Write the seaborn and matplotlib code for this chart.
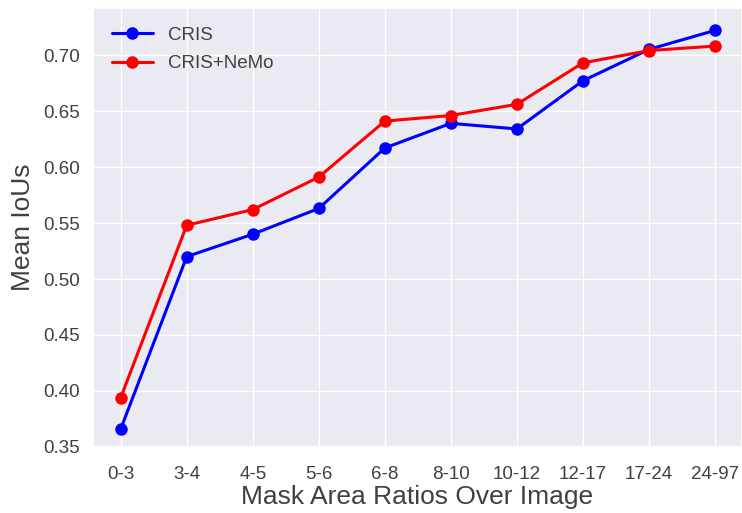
import matplotlib
matplotlib.use("Agg")
import matplotlib.pyplot as plt
import seaborn as sns

# Mask-area buckets (percent of image) and mean IoU per bucket
ratio_bins = ["0-3", "3-4", "4-5", "5-6", "6-8", "8-10", "10-12", "12-17", "17-24", "24-97"]
cris_miou = [0.366, 0.520, 0.540, 0.563, 0.617, 0.639, 0.634, 0.677, 0.705, 0.722]
cris_nemo_miou = [0.394, 0.548, 0.562, 0.591, 0.641, 0.646, 0.656, 0.693, 0.704, 0.708]

sns.set_theme(style="darkgrid")
plt.rcParams["font.family"] = ["Liberation Sans", "DejaVu Sans"]

fig = plt.figure(figsize=(7.42, 5.13), dpi=100)
ax = fig.add_axes([0.1253, 0.1287, 0.8747, 0.8557])

line_kw = dict(marker="o", markersize=9, linewidth=2.2, markeredgewidth=0)
sns.lineplot(x=ratio_bins, y=cris_miou, color="blue", label="CRIS", ax=ax, **line_kw)
sns.lineplot(x=ratio_bins, y=cris_nemo_miou, color="red", label="CRIS+NeMo", ax=ax, **line_kw)

ax.set_ylim(0.35, 0.742)
ax.set_xlim(-0.42, 9.41)
ax.set_yticks([0.35, 0.40, 0.45, 0.50, 0.55, 0.60, 0.65, 0.70])
ax.set_yticklabels([f"{v:.2f}" for v in ax.get_yticks()])
ax.tick_params(axis="both", labelsize=13.5, labelcolor=".25")
ax.tick_params(axis="x", pad=8)
ax.tick_params(axis="y", pad=3.5)
ax.set_xlabel("Mask Area Ratios Over Image", fontsize=19, color=".25", labelpad=1)
ax.set_ylabel("Mean IoUs", fontsize=19, color=".25", labelpad=6)

ax.legend(loc="upper left", fontsize=13.5, frameon=False, handlelength=2.2,
          borderaxespad=0.6, labelspacing=0.6, labelcolor=".25")

fig.savefig("out.png", dpi=100)
